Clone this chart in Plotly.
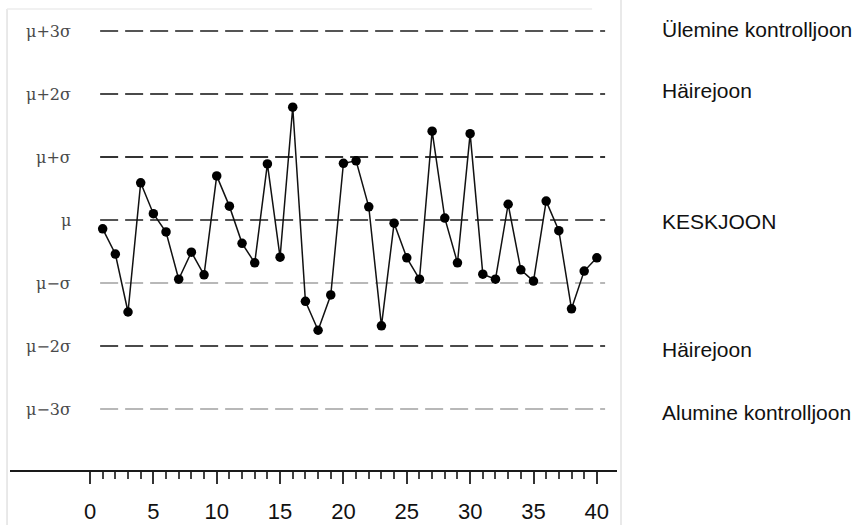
import plotly.graph_objects as go

# Sample number and measured value (in units of sigma around the mean)
samples = list(range(1, 41))
values = [-0.14, -0.54, -1.46, 0.59, 0.10, -0.19, -0.94, -0.51, -0.87, 0.70,
          0.22, -0.37, -0.68, 0.89, -0.59, 1.79, -1.29, -1.75, -1.19, 0.90,
          0.94, 0.21, -1.68, -0.05, -0.60, -0.94, 1.41, 0.03, -0.68, 1.37,
          -0.86, -0.94, 0.25, -0.79, -0.97, 0.30, -0.17, -1.41, -0.81, -0.60]

# Reference lines at mean +/- k sigma
line_levels = [3, 2, 1, 0, -1, -2, -3]
line_labels = ["\u03bc+3\u03c3", "\u03bc+2\u03c3", "\u03bc+\u03c3", "\u03bc",
               "\u03bc\u2212\u03c3", "\u03bc\u22122\u03c3", "\u03bc\u22123\u03c3"]
line_colors = ["#555555", "#4a4a4a", "#333333", "#555555",
               "#b8b8b8", "#4a4a4a", "#b8b8b8"]

# Names of the lines, written to the right of the chart
side_levels = [3, 2, 0, -2, -3]
side_labels = ["Ülemine kontrolljoon", "Häirejoon", "KESKJOON",
               "Häirejoon", "Alumine kontrolljoon"]

major_ticks = list(range(0, 41, 5))
minor_ticks = [t for t in range(1, 40) if t % 5]

LINE_START, LINE_END = 0.8, 40.65

fig = go.Figure()

for lvl, col in zip(line_levels, line_colors):
    fig.add_trace(go.Scatter(
        x=[LINE_START, LINE_END], y=[lvl, lvl], mode="lines",
        line=dict(color=col, width=2, dash="18px,7px"),
        hoverinfo="skip", showlegend=False))

fig.add_trace(go.Scatter(
    x=samples, y=values, mode="lines+markers",
    line=dict(color="#111111", width=1.5),
    marker=dict(color="#000000", size=9.5),
    showlegend=False, cliponaxis=False))

annotations = []
for lvl, txt in zip(line_levels, line_labels):
    annotations.append(dict(
        x=0.1038, xref="paper", y=lvl, yref="y", text=txt,
        showarrow=False, xanchor="right", yanchor="middle",
        font=dict(family="DejaVu Serif", size=16, color="#4a4a4a")))

side_offsets = {3: 0.03, 2: 0.05, 0: -0.03, -2: -0.05, -3: -0.05}
for lvl, txt in zip(side_levels, side_labels):
    annotations.append(dict(
        x=1.0708, xref="paper", y=lvl + side_offsets[lvl], yref="y", text=txt,
        showarrow=False, xanchor="left", yanchor="middle",
        font=dict(family="Liberation Sans, Arial", size=21, color="#111111")))

# Frame of the scanned figure
frame = [
    dict(type="line", xref="paper", yref="paper", x0=-0.0049, x1=-0.0049,
         y0=-0.117, y1=0.981, line=dict(color="#e2e2e2", width=1.5)),
    dict(type="line", xref="paper", yref="paper", x0=-0.0049, x1=0.959,
         y0=0.981, y1=0.981, line=dict(color="#ececec", width=1.5)),
    dict(type="line", xref="paper", yref="paper", x0=1.0066, x1=1.0066,
         y0=-0.117, y1=1.0, line=dict(color="#e2e2e2", width=1.5)),
]

fig.update_layout(
    width=859, height=525,
    margin=dict(l=10, r=242, t=0, b=55),
    paper_bgcolor="white", plot_bgcolor="white",
    annotations=annotations, shapes=frame,
    xaxis=dict(
        range=[-6.314, 41.59], showgrid=False, zeroline=False,
        showline=True, linecolor="#1a1a1a", linewidth=2,
        ticks="outside", tickvals=major_ticks, ticklen=12, tickwidth=2,
        tickcolor="#333333", ticklabelstandoff=9,
        minor=dict(tickmode="array", tickvals=minor_ticks, ticks="outside",
                   ticklen=7, tickwidth=1.5, tickcolor="#444444"),
        tickfont=dict(family="Liberation Sans, Arial", size=22, color="#111111"),
        fixedrange=True),
    yaxis=dict(range=[-3.968, 3.492], visible=False, fixedrange=True),
)

fig.write_html("out.html")
